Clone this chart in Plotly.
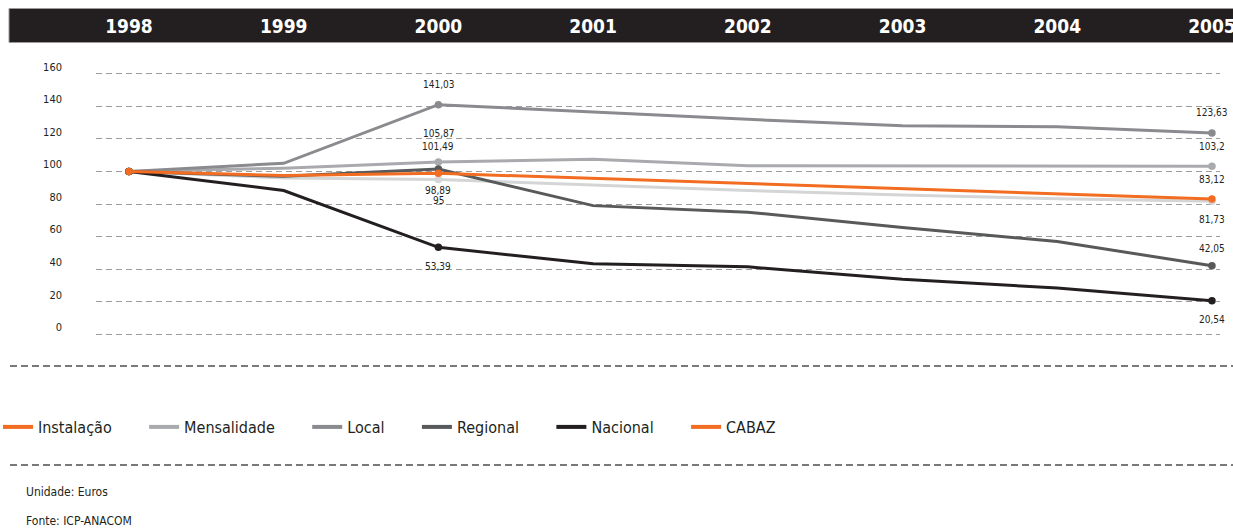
import plotly.graph_objects as go

# ---------------- data ----------------
years = [1998, 1999, 2000, 2001, 2002, 2003, 2004, 2005]
year_labels = ["1998", "1999", "2000", "2001", "2002", "2003", "2004", "2005"]

instalacao = [100, 96, 95, 91.5, 88.3, 85.5, 83.3, 81.73]
mensalidade = [100, 102, 105.87, 107.5, 103.5, 103.3, 103.3, 103.2]
local = [100, 105, 141.03, 136.5, 132, 128, 127.5, 123.63]
regional = [100, 97, 101.49, 79, 75, 65.5, 57, 42.05]
nacional = [100, 88.3, 53.39, 43.3, 41.4, 33.8, 28.4, 20.54]
cabaz = [100, 97.5, 98.89, 95.7, 92.5, 89.4, 86.3, 83.12]

y_ticks = [0, 20, 40, 60, 80, 100, 120, 140, 160]
marked_years = [1998, 2000, 2005]
labelled_years = [2000, 2005]

unit_note = "Unidade: Euros"
source_note = "Fonte: ICP-ANACOM"

# ---------------- style ----------------
FONT = "Liberation Sans Narrow, DejaVu Sans Condensed, Arial Narrow, sans-serif"
ORANGE = "#f26d21"
TEXT = "#231f20"
LEGEND_PAD = "\u00a0" * 6  # spacing between legend entries

series = [
    # name, values, line colour, legend colour, label offsets {year: px}
    ("Instalação", instalacao, "#d4d5d6", ORANGE, {2000: -21, 2005: -18}),
    ("Mensalidade", mensalidade, "#a9aaad", "#a9aaad", {2000: 28, 2005: 20}),
    ("Local", local, "#8a8b8e", "#8a8b8e", {2000: 20, 2005: 20}),
    ("Regional", regional, "#58595b", "#58595b", {2000: 23, 2005: 17}),
    ("Nacional", nacional, "#231f20", "#231f20", {2000: -19, 2005: -19}),
    ("CABAZ", cabaz, ORANGE, ORANGE, {2000: -17, 2005: 19}),
]

fig = go.Figure()
annotations = []

# legend entries (short thick lines, in the order of the original key)
for name, vals, lcol, legcol, offs in series:
    fig.add_trace(go.Scatter(
        x=[None], y=[None], mode="lines", name=name + LEGEND_PAD,
        line=dict(color=legcol, width=4), hoverinfo="skip",
    ))

# data lines, markers and value labels
for name, vals, lcol, legcol, offs in series:
    fig.add_trace(go.Scatter(
        x=years, y=vals, mode="lines", name=name,
        line=dict(color=lcol, width=3), showlegend=False,
    ))
    mx = [y for y in years if y in marked_years]
    my = [vals[years.index(y)] for y in mx]
    fig.add_trace(go.Scatter(
        x=mx, y=my, mode="markers", name=name,
        marker=dict(size=7.5, color=lcol), showlegend=False,
    ))
    for yr in labelled_years:
        v = vals[years.index(yr)]
        annotations.append(dict(
            x=yr, y=v, xref="x", yref="y", showarrow=False,
            text=f"{v:g}".replace(".", ","), yshift=offs[yr],
            font=dict(family=FONT, size=10, color=TEXT),
        ))

# plot area geometry (pixels)
W, H = 1233, 530
L, R, T, B = 96, 13, 64, 186
pw, ph = W - L - R, H - T - B


def px_x(p):
    return (p - L) / pw


def px_y(p):
    return (H - B - p) / ph


annotations += [
    dict(x=px_x(24), y=px_y(492), xref="paper", yref="paper", xanchor="left",
         yanchor="middle", showarrow=False, text=unit_note,
         font=dict(family=FONT, size=12, color=TEXT)),
    dict(x=px_x(24), y=px_y(521), xref="paper", yref="paper", xanchor="left",
         yanchor="middle", showarrow=False, text=source_note,
         font=dict(family=FONT, size=12, color=TEXT)),
]

shapes = [
    dict(type="rect", xref="paper", yref="paper", layer="below",
         x0=px_x(9), x1=px_x(1240), y0=px_y(42.5), y1=px_y(8.5),
         fillcolor="#231f20", line=dict(color="#9a9a9a", width=1)),
    dict(type="line", xref="paper", yref="paper",
         x0=px_x(10), x1=px_x(1233), y0=px_y(366), y1=px_y(366),
         line=dict(color="#4d4d4f", width=1.3, dash="7px,4px")),
    dict(type="line", xref="paper", yref="paper",
         x0=px_x(10), x1=px_x(1233), y0=px_y(465), y1=px_y(465),
         line=dict(color="#4d4d4f", width=1.3, dash="7px,4px")),
]

fig.update_layout(
    width=W, height=H,
    margin=dict(l=L, r=R, t=T, b=B, pad=0, autoexpand=False),
    paper_bgcolor="white", plot_bgcolor="rgba(0,0,0,0)",
    font=dict(family=FONT, color=TEXT),
    showlegend=True,
    legend=dict(orientation="h", x=px_x(-2), y=px_y(427), xanchor="left",
                yanchor="middle", font=dict(family=FONT, size=16, color=TEXT),
                itemwidth=30, traceorder="normal", bgcolor="rgba(0,0,0,0)"),
    xaxis=dict(range=[1997.787, 2005.052], side="top", tickvals=years,
               ticktext=year_labels, showgrid=False, zeroline=False,
               showline=False, ticks="", ticklabelstandoff=26,
               ticklabeloverflow="allow", automargin=False,
               tickfont=dict(family=FONT, size=19, color="white", weight="bold")),
    yaxis=dict(range=[-6, 166], tickvals=y_ticks,
               ticktext=[str(t) for t in y_ticks], showgrid=True,
               gridcolor="#9d9d9d", gridwidth=1.3, griddash="6px,4px",
               zeroline=False, showline=False, ticks="", automargin=False,
               ticklabelstandoff=33, ticklabelshift=-7,
               tickfont=dict(family=FONT, size=11, color=TEXT)),
    shapes=shapes,
    annotations=annotations,
)

fig.write_html("out.html")
